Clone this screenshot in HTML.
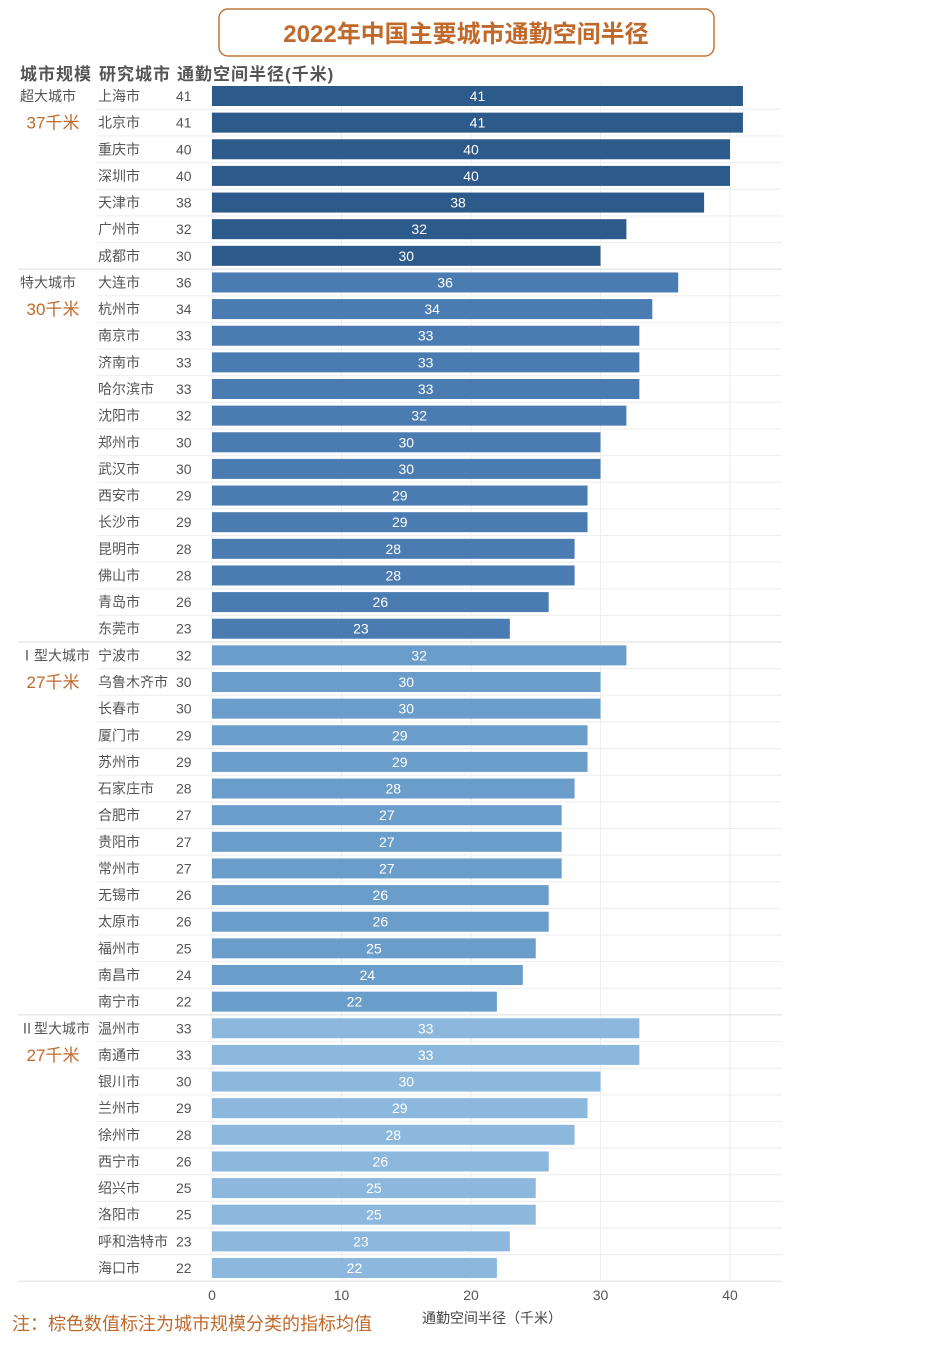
<!DOCTYPE html>
<html><head><meta charset="utf-8">
<style>
body{margin:0;background:#fff;width:926px;height:1343px;overflow:hidden;font-family:"Liberation Sans","Noto Sans CJK SC",sans-serif}
svg text{font-family:"Liberation Sans","Noto Sans CJK SC",sans-serif}
</style></head><body>
<svg id="c" width="926" height="1343">
<rect x="219" y="9" width="495" height="47" rx="9" fill="#fff" stroke="#c0763a" stroke-width="1.5"/>
<text x="466" y="42" text-anchor="middle" font-size="24" font-weight="bold" fill="#c0692a">2022年中国主要城市通勤空间半径</text>
<text x="20" y="80" font-size="17" letter-spacing="1" font-weight="bold" fill="#555">城市规模</text>
<text x="99" y="80" font-size="17" letter-spacing="1" font-weight="bold" fill="#555">研究城市</text>
<text x="177" y="80" font-size="17" letter-spacing="1" font-weight="bold" fill="#555">通勤空间半径(千米)</text>
<text x="12" y="1330" font-size="18" fill="#c0692a">注：棕色数值标注为城市规模分类的指标均值</text>
<text x="492" y="1323" text-anchor="middle" font-size="14" fill="#444">通勤空间半径（千米）</text>
</svg>
<script>
const cities=["上海市","北京市","重庆市","深圳市","天津市","广州市","成都市","大连市","杭州市","南京市","济南市","哈尔滨市","沈阳市","郑州市","武汉市","西安市","长沙市","昆明市","佛山市","青岛市","东莞市","宁波市","乌鲁木齐市","长春市","厦门市","苏州市","石家庄市","合肥市","贵阳市","常州市","无锡市","太原市","福州市","南昌市","南宁市","温州市","南通市","银川市","兰州市","徐州市","西宁市","绍兴市","洛阳市","呼和浩特市","海口市"];
const values=[41,41,40,40,38,32,30,36,34,33,33,33,32,30,30,29,29,28,28,26,23,32,30,30,29,29,28,27,27,27,26,26,25,24,22,33,33,30,29,28,26,25,25,23,22];
const groupNames=["超大城市","特大城市","Ⅰ型大城市","Ⅱ型大城市"];
const groupMeans=["37千米","30千米","27千米","27千米"];
const groupSizes=[7,14,14,10];
const groupColors=["#2c5a8a","#4a7cb2","#6b9dcb","#8cb8de"];
const ticks=[0,10,20,30,40];
const svg=document.getElementById('c');const NS="http://www.w3.org/2000/svg";
const x0=212,k=(730-212)/40,y0=96,pitch=(1268-96)/44;
const X=v=>x0+v*k, Y=i=>y0+i*pitch;
function mk(t,a,txt){const e=document.createElementNS(NS,t);for(const n in a)e.setAttribute(n,a[n]);if(txt!=null)e.textContent=txt;svg.appendChild(e);return e;}
ticks.forEach(t=>{
 const g=mk('line',{x1:X(t),x2:X(t),y1:83,y2:1281,stroke:'#eee'});
 
 
 const l=mk('text',{x:X(t),y:1300,'text-anchor':'middle','font-size':14,fill:'#555'},t);
 
 
});
let idx=0;
groupSizes.forEach((n,gi)=>{
 const start=idx;
 const gl=mk('text',{x:20,y:Y(start)+5,'font-size':14,fill:'#555'},groupNames[gi]);
 
 
 const gm=mk('text',{x:53,y:Y(start+1)+6,'text-anchor':'middle','font-size':17,fill:'#c0692a'},groupMeans[gi]);
 
 
 for(let j=0;j<n;j++,idx++){
  const y=Y(idx),v=values[idx];
  const sep=mk('line',{x1:(j==n-1?18:97),x2:782,y1:y+13.3,y2:y+13.3,stroke:(j==n-1?'#ddd':'#eee')});
  
  
  const c=mk('text',{x:98,y:y+5,'font-size':14,fill:'#555'},cities[idx]);
  
  
  const vt=mk('text',{x:176,y:y+5,'font-size':14,fill:'#555'},v);
  
  
  const b=mk('rect',{x:X(0),y:y-10,width:X(v)-X(0),height:20,fill:groupColors[gi]});
  
  
  const bl=mk('text',{x:(X(0)+X(v))/2,y:y+5,'text-anchor':'middle','font-size':14,fill:'#fff'},v);
  
  
 }
});
</script>
</body></html>
